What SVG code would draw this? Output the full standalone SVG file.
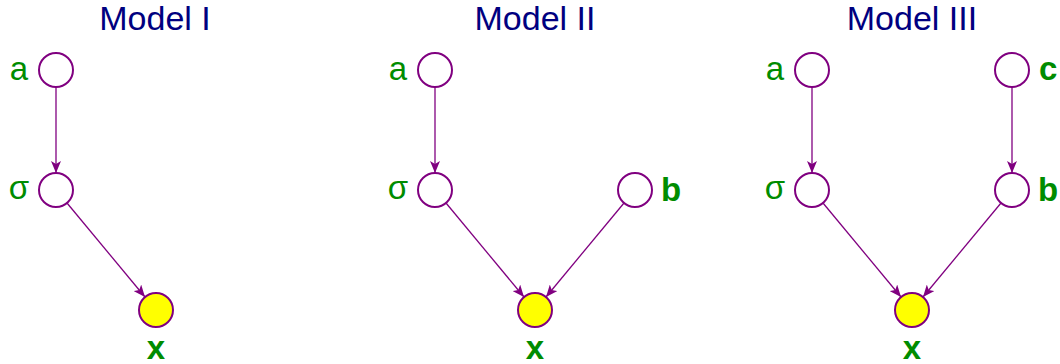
<svg xmlns="http://www.w3.org/2000/svg" width="1060" height="364" viewBox="0 0 1060 364">
<style>
.title{font-family:"Liberation Sans",Arial,sans-serif;font-size:34px;fill:#000080;text-anchor:middle}
.lbl{font-family:"Liberation Sans",Arial,sans-serif;font-size:33px;fill:#008c00}
.b{font-weight:bold}
.n{fill:#fff;stroke:#800080;stroke-width:2}
.obs{fill:#ffff00;stroke:#800080;stroke-width:2}
.e{stroke:#800080;stroke-width:1.3;fill:none;marker-end:url(#ah)}
</style>
<defs>
<marker id="ah" viewBox="0 0 12 10" refX="12" refY="5" markerWidth="12" markerHeight="10" markerUnits="userSpaceOnUse" orient="auto">
<path d="M0,0 L12,5 L0,10 L3,5 z" fill="#800080"/>
</marker>
</defs>
<text class="title" x="155" y="30">Model I</text>
<text class="title" x="535" y="30">Model II</text>
<text class="title" x="912" y="30">Model III</text>
<g id="edges">
<line class="e" x1="56" y1="87" x2="56" y2="173"/>
<line class="e" x1="67" y1="203" x2="145" y2="297"/>
<line class="e" x1="435" y1="87" x2="435" y2="173"/>
<line class="e" x1="446" y1="203" x2="524" y2="297"/>
<line class="e" x1="624" y1="203" x2="546" y2="297"/>
<line class="e" x1="812" y1="87" x2="812" y2="173"/>
<line class="e" x1="1012" y1="87" x2="1012" y2="173"/>
<line class="e" x1="823" y1="203" x2="901" y2="297"/>
<line class="e" x1="1001" y1="203" x2="923" y2="297"/>
</g>
<g id="m1_a"><circle class="n" cx="56" cy="70" r="17"/><text class="lbl" x="28" y="80" text-anchor="end">a</text></g>
<g id="m1_sigma"><circle class="n" cx="56" cy="190" r="17"/><text class="lbl" x="29" y="199" text-anchor="end">σ</text></g>
<g id="m1_x"><circle class="obs" cx="156" cy="310" r="17"/><text class="lbl b" x="156" y="359" text-anchor="middle">x</text></g>
<g id="m2_a"><circle class="n" cx="435" cy="70" r="17"/><text class="lbl" x="407" y="80" text-anchor="end">a</text></g>
<g id="m2_sigma"><circle class="n" cx="435" cy="190" r="17"/><text class="lbl" x="408" y="199" text-anchor="end">σ</text></g>
<g id="m2_b"><circle class="n" cx="635" cy="190" r="17"/><text class="lbl b" x="661" y="201">b</text></g>
<g id="m2_x"><circle class="obs" cx="535" cy="310" r="17"/><text class="lbl b" x="535" y="359" text-anchor="middle">x</text></g>
<g id="m3_a"><circle class="n" cx="812" cy="70" r="17"/><text class="lbl" x="784" y="80" text-anchor="end">a</text></g>
<g id="m3_c"><circle class="n" cx="1012" cy="70" r="17"/><text class="lbl b" x="1039" y="80">c</text></g>
<g id="m3_sigma"><circle class="n" cx="812" cy="190" r="17"/><text class="lbl" x="785" y="199" text-anchor="end">σ</text></g>
<g id="m3_b"><circle class="n" cx="1012" cy="190" r="17"/><text class="lbl b" x="1038" y="201">b</text></g>
<g id="m3_x"><circle class="obs" cx="912" cy="310" r="17"/><text class="lbl b" x="912" y="359" text-anchor="middle">x</text></g>
</svg>
